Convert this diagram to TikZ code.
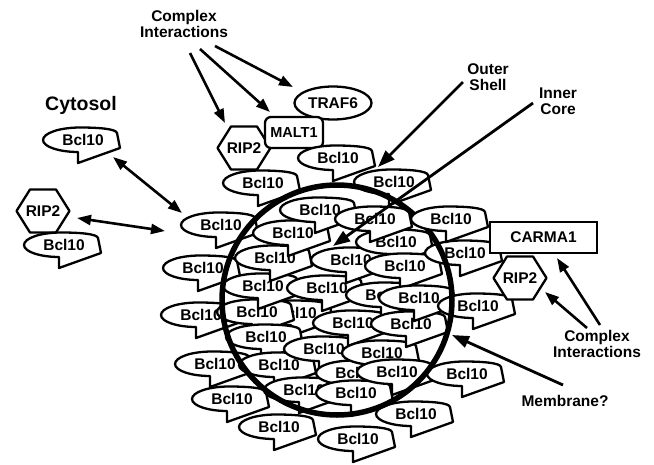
\documentclass[tikz,border=0pt]{standalone}
\usepackage{fontspec}
\setmainfont{Liberation Sans}
\usetikzlibrary{arrows.meta,shapes.geometric}
\tikzset{
  shapeline/.style={draw=black, fill=white, line width=2.3pt, line join=round},
  lbl/.style={font=\fontsize{15.5}{15.5}\selectfont\bfseries, inner sep=0pt},
  twoline/.style={lbl, align=center},
  arr/.style={line width=2.6pt, -{Triangle[length=14pt,width=10pt]}},
  bigarr/.style={line width=2.8pt, -{Triangle[length=17pt,width=12pt]}},
  darr/.style={line width=2.6pt, {Triangle[length=14pt,width=10pt]}-{Triangle[length=14pt,width=10pt]}},
  membrane/.style={line width=5.5pt},
}
\newcommand\bclten[3]{%
  \begin{scope}[shift={(#2,#3)}]
    \path[shapeline] (-2,12) -- (-2,23) -- (40,8) -- (37,-7)
      .. controls (36,-11) and (20,-12.5) .. (0,-12.5)
      .. controls (-20,-12.5) and (-37,-7) .. (-37,0)
      .. controls (-37,7) and (-20,12) .. cycle;
    \node[lbl] (#1) at (3,-0.5) {Bcl10};
  \end{scope}}
\newcommand\hexa[3]{%
  \begin{scope}[shift={(#2,#3)}]
    \path[shapeline] (-26.5,0) -- (-13,-21.5) -- (13,-21.5) -- (26.5,0) -- (13,21.5) -- (-13,21.5) -- cycle;
    \node[lbl] (#1) at (0,0) {RIP2};
  \end{scope}}
\begin{document}
\begin{tikzpicture}[x=1pt,y=-1pt]
\useasboundingbox[fill=white] (0,0) rectangle (654,464);

% labels
\node[twoline] (ciTop) at (184,24) {Complex\\Interactions};
\node[font=\fontsize{19.5}{20}\selectfont\bfseries, inner sep=0pt] (cyt) at (81,105) {Cytosol};
\node[twoline] (outer) at (488,77) {Outer\\Shell};
\node[twoline] (inner) at (558,101) {Inner\\Core};
\node[twoline] (ciRight) at (597,344) {Complex\\Interactions};
\node[lbl] (memb) at (565,401) {Membrane?};

% top complex
\node[lbl, ellipse, draw, fill=white, line width=2.3pt, minimum width=77pt, minimum height=33pt] (traf) at (333,103) {TRAF6};
\hexa{ripTop}{244}{148}
\node[draw, fill=white, line width=2.3pt, rounded corners=6pt, minimum width=58pt, minimum height=31pt, inner sep=0pt, font=\fontsize{14.5}{14.5}\selectfont\bfseries] (malt) at (294,132.5) {MALT1};
\bclten{b8}{260}{183}
\bclten{b7}{335}{158}

% cytosol
\bclten{b1}{80}{140}
\hexa{ripLeft}{43}{211}
\bclten{b2}{61}{245}

% cluster
\bclten{b17}{198}{315}
\bclten{b14}{200}{268}
\bclten{b22}{212}{364}
\bclten{b10}{218}{225}
\bclten{b25}{229}{399}
\bclten{b19}{293}{313}
\bclten{b18}{254}{312}
\bclten{b15}{260}{286}
\bclten{b20}{263}{337}
\bclten{b13}{272}{258}
\bclten{b23}{276}{365}
\bclten{b26}{276}{427}
\bclten{b12}{290}{233}
\bclten{b24}{301}{390}
\bclten{b11}{317}{210}
\bclten{b21}{321}{349}
\bclten{b16}{324}{288}
\bclten{b31}{348}{260}
\bclten{b36}{350}{323}
\bclten{b39}{353}{373}
\bclten{b42}{353}{393}
\bclten{b44}{355}{439}
\bclten{b29}{393}{242}
\bclten{b27}{372}{219}
\bclten{b38}{379}{353}
\bclten{b33}{383}{295}
\bclten{b9}{391}{182}
\bclten{b40}{394}{372}
\bclten{b32}{402}{266}
\bclten{b37}{408}{324}
\bclten{b43}{413}{414}
\bclten{b34}{416}{298}
\bclten{b30}{462}{253}
\bclten{b41}{464}{374}
\bclten{b35}{475}{306}

% membrane circle
\draw[membrane] (337,300) circle[radius=115];
\bclten{b28}{448}{219}

% right complex
\node[draw, fill=white, line width=2.6pt, minimum width=107pt, minimum height=31pt, lbl] (carma) at (543.5,237.5) {CARMA1};
\hexa{ripRight}{520}{278}

% arrow end points
\coordinate (a1s) at (190,53); \coordinate (a1e) at (225,123);
\coordinate (a2s) at (200,49); \coordinate (a2e) at (270,112);
\coordinate (a3s) at (215,46); \coordinate (a3e) at (293,87);
\coordinate (d1s) at (113,157); \coordinate (d1e) at (182,213);
\coordinate (d2s) at (77,218); \coordinate (d2e) at (165,231);
\coordinate (oss) at (463,82); \coordinate (ose) at (378,167);
\coordinate (ics) at (533,103); \coordinate (ice) at (333,246);
\coordinate (r1s) at (600,325); \coordinate (r1e) at (557,258);
\coordinate (r2s) at (587,328); \coordinate (r2e) at (545,292);
\coordinate (ms) at (563,385); \coordinate (me) at (452,335);

\draw[arr] (a1s) -- (a1e);
\draw[arr] (a2s) -- (a2e);
\draw[arr] (a3s) -- (a3e);
\draw[darr] (d1s) -- (d1e);
\draw[darr] (d2s) -- (d2e);
\draw[bigarr] (oss) -- (ose);
\draw[bigarr] (ics) -- (ice);
\draw[arr] (r1s) -- (r1e);
\draw[arr] (r2s) -- (r2e);
\draw[bigarr] (ms) -- (me);
\end{tikzpicture}
\end{document}
